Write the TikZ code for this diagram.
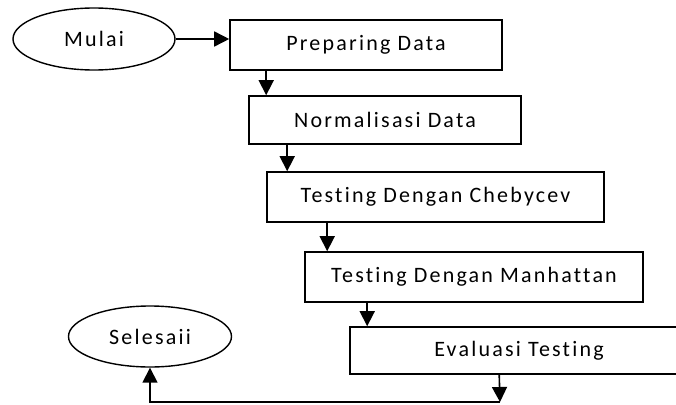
\documentclass[tikz,border=0pt]{standalone}
\usepackage{fontspec}
\setmainfont{Carlito}[LetterSpace=10,Ligatures=NoCommon]
\usepackage{tikz}
\usetikzlibrary{arrows.meta,shapes.geometric}

\begin{document}
\begin{tikzpicture}[
  x=1pt,y=-1pt,
  font=\fontsize{22}{26}\selectfont,
  terminal/.style={ellipse,draw,line width=1.4pt,inner sep=0pt,minimum width=162pt,minimum height=62pt},
  process/.style={rectangle,draw,line width=1.6pt,inner sep=0pt,minimum height=50pt},
  flow/.style={-{Triangle[length=15pt,width=15pt]},line width=1.6pt}
]
  \useasboundingbox (0,0) rectangle (676,404);

  % Nodes
  \node[terminal] (mulai) at (94,39) {Mulai};
  \node[process,minimum width=272pt] (prep) at (366,45) {Preparing Data};
  \node[process,minimum width=272pt,minimum height=48pt] (norm) at (385,120) {Normalisasi Data};
  \node[process,minimum width=337pt] (cheb) at (435.5,197) {Testing Dengan Chebycev};
  \node[process,minimum width=338pt] (manh) at (474,277) {Testing Dengan Manhattan};
  \node[process,minimum width=338pt,minimum height=47pt] (eval) at (519,350.5) {Evaluasi Testing};
  \node[terminal,minimum width=163pt,minimum height=61pt] (selesai) at (150,336.5) {Selesaii};
  \coordinate (bawah) at (500,402);

  % Flow
  \draw[flow] (mulai.east) -- (mulai.east -| prep.west);
  \draw[flow] ([xshift=37pt]prep.south west) -- ([xshift=18pt]norm.north west);
  \draw[flow] ([xshift=39pt]norm.south west) -- ([xshift=21pt]cheb.north west);
  \draw[flow] ([xshift=61pt]cheb.south west) -- ([xshift=23pt]manh.north west);
  \draw[flow] ([xshift=63pt]manh.south west) -- ([xshift=18pt]eval.north west);
  \draw[flow] ([xshift=150pt]eval.south west) -- (bawah);
  \draw[flow] (bawah) -| (selesai.south);
\end{tikzpicture}
\end{document}
